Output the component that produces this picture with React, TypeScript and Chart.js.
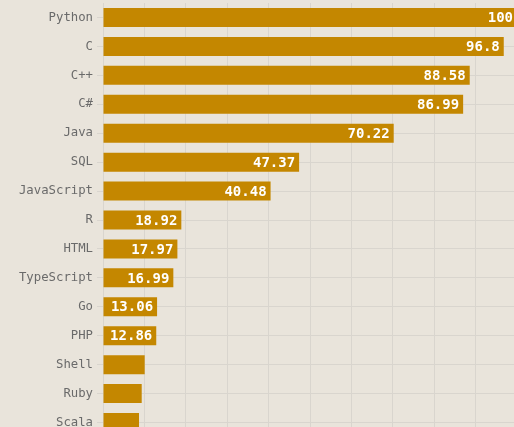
import React, { useEffect, useRef } from "react";
import { Chart, registerables } from "chart.js";

Chart.register(...registerables);

const languages = [
  "Python", "C", "C++", "C#", "Java", "SQL", "JavaScript", "R", "HTML",
  "TypeScript", "Go", "PHP", "Shell", "Ruby", "Scala",
];
const scores = [
  100, 96.8, 88.58, 86.99, 70.22, 47.37, 40.48, 18.92, 17.97,
  16.99, 13.06, 12.86, 10.07, 9.35, 8.7,
];
const xTicks = [0, 10, 20, 30, 40, 50, 60, 70, 80, 90, 100];
const labelMinValue = 12;

const BG = "#e9e4db";
const BAR = "#c48700";
const GRID = "#d9d5ce";
const MONO = "'DejaVu Sans Mono', 'Liberation Mono', monospace";

const valueLabels = {
  id: "valueLabels",
  afterDatasetsDraw(chart: any) {
    const ctx = chart.ctx;
    const meta = chart.getDatasetMeta(0);
    ctx.save();
    ctx.font = `bold 14px ${MONO}`;
    ctx.fillStyle = "#ffffff";
    ctx.textAlign = "right";
    ctx.textBaseline = "middle";
    meta.data.forEach((bar: any, i: number) => {
      if (scores[i] < labelMinValue) return;
      const txt = String(scores[i]);
      ctx.fillText(txt, bar.x - 4, bar.y + 1);
    });
    ctx.restore();
  },
};

export default function App() {
  const ref = useRef<HTMLCanvasElement>(null);
  useEffect(() => {
    if (!ref.current) return;
    const chart = new Chart(ref.current, {
      type: "bar",
      data: {
        labels: languages,
        datasets: [
          {
            data: scores,
            backgroundColor: BAR,
            borderWidth: 0,
            barPercentage: 0.657,
            categoryPercentage: 1,
          },
        ],
      },
      options: {
        indexAxis: "y",
        responsive: false,
        animation: false,
        layout: { padding: { top: 3, right: 3, left: 0, bottom: 0 } },
        plugins: { legend: { display: false }, tooltip: { enabled: false } },
        scales: {
          x: {
            min: 0,
            max: 100,
            afterBuildTicks: (scale: any) => {
              scale.ticks = xTicks.map((v) => ({ value: v }));
            },
            afterFit: (scale: any) => {
              scale.height = 0;
              scale.paddingLeft = 0;
              scale.paddingRight = 0;
            },
            ticks: { display: false },
            grid: { color: GRID, drawTicks: false, lineWidth: 1 },
            border: { display: false },
          },
          y: {
            afterFit: (scale: any) => {
              scale.width = 103;
              scale.paddingTop = 0;
              scale.paddingBottom = 0;
            },
            ticks: {
              color: "#6a6a6a",
              font: { family: MONO, size: 12.3 },
              padding: 4,
            },
            grid: { color: GRID, offset: false, tickLength: 6, lineWidth: 1 },
            border: { display: false },
          },
        },
      },
      plugins: [valueLabels],
    });
    return () => chart.destroy();
  }, []);
  return (
    <div
      style={{
        position: "fixed",
        left: 0,
        top: 0,
        width: 514,
        height: 427,
        overflow: "hidden",
        background: BG,
      }}
    >
      <canvas ref={ref} width={520} height={437} style={{ display: "block" }} />
    </div>
  );
}
